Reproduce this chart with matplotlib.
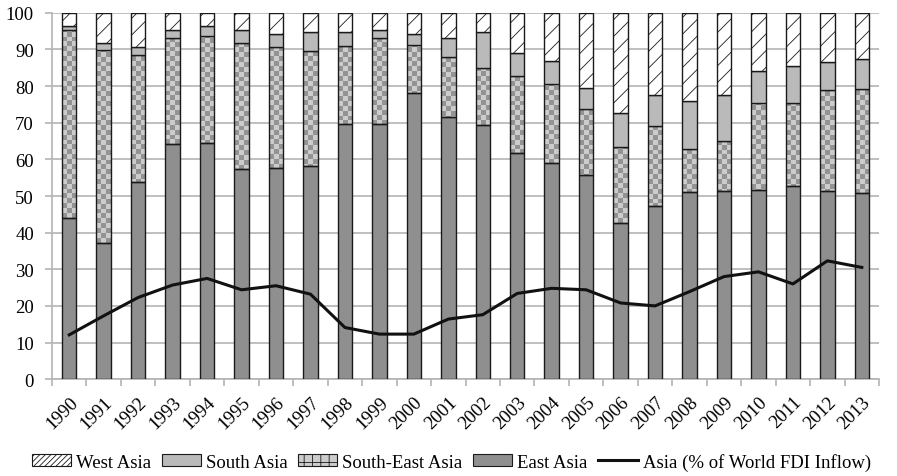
import numpy as np
import matplotlib
matplotlib.use('Agg')
from matplotlib import pyplot as plt
from matplotlib.patches import Patch
from matplotlib.lines import Line2D
from matplotlib.colors import ListedColormap

# shares of Asian FDI inflow by sub-region (%), and Asia's share of world FDI inflow
years = [str(y) for y in range(1990, 2014)]
east_asia = [44.0, 37.3, 53.8, 64.1, 64.6, 57.5, 57.6, 58.2, 69.7, 69.6, 78.2, 71.7,
             69.3, 61.7, 58.9, 55.7, 42.6, 47.3, 51.1, 51.4, 51.6, 52.8, 51.4, 50.9]
south_east_asia = [51.4, 52.5, 34.8, 28.9, 29.2, 34.3, 33.1, 31.5, 21.2, 23.4, 12.9, 16.3,
                   15.7, 21.0, 21.8, 18.0, 20.8, 21.8, 11.7, 13.6, 23.9, 22.6, 27.5, 28.4]
south_asia = [1.0, 2.0, 2.0, 2.4, 2.7, 3.4, 3.4, 5.0, 3.9, 2.4, 3.0, 5.2,
              9.7, 6.2, 6.1, 5.8, 9.3, 8.6, 13.0, 12.5, 8.6, 10.1, 7.6, 8.0]
west_asia = [3.6, 8.2, 9.4, 4.6, 3.5, 4.8, 5.9, 5.3, 5.2, 4.6, 5.9, 6.8,
             5.3, 11.1, 13.2, 20.5, 27.3, 22.3, 24.2, 22.5, 15.9, 14.5, 13.5, 12.7]
asia_world = [12.1, 17.3, 22.3, 25.7, 27.5, 24.4, 25.5, 23.2, 14.1, 12.3, 12.3, 16.4,
              17.6, 23.4, 24.8, 24.4, 20.8, 20.0, 23.9, 28.0, 29.3, 26.0, 32.3, 30.5]

plt.rcParams['font.family'] = ['Liberation Serif', 'DejaVu Serif']
plt.rcParams['hatch.linewidth'] = 0.6

c_east = '#8f8f8f'
c_south = '#bababa'
c_chk = ['#cccccc', '#939393']
grid_c = '#b4b4b4'

fig = plt.figure(figsize=(8.97, 4.77), dpi=100)
ax = fig.add_axes([0.058, 0.203, 0.922, 0.768])

x = np.arange(len(years))
w = 0.42
e = np.array(east_asia)
se = np.array(south_east_asia)
s = np.array(south_asia)
wa = np.array(west_asia)

ax.bar(x, e, w, color=c_east, edgecolor='#1a1a1a', linewidth=1.0, zorder=3)
se_bars = ax.bar(x, se, w, bottom=e, facecolor='none', edgecolor='#1a1a1a', linewidth=1.0, zorder=3)
ax.bar(x, s, w, bottom=e + se, color=c_south, edgecolor='#1a1a1a', linewidth=1.0, zorder=3)
ax.bar(x, wa, w, bottom=e + se + s, facecolor='white', edgecolor='#1a1a1a', hatch='//',
       linewidth=1.0, zorder=3)

# checkerboard fill for South-East Asia, clipped to each bar
ny, nx = 75, 168
checker = np.add.outer(np.arange(ny), np.arange(nx)) % 2
for b in se_bars:
    im = ax.imshow(checker, cmap=ListedColormap(c_chk), extent=(-0.5, 23.5, 0, 100),
                   aspect='auto', interpolation='nearest', zorder=2.5)
    im.set_clip_path(b)

ax.plot(x, asia_world, color='#111111', linewidth=2.2, zorder=4)

ax.set_xlim(-0.5, len(years) - 0.5)
ax.set_ylim(0, 100)
ax.set_yticks(range(0, 101, 10))
ax.yaxis.grid(True, color=grid_c, linewidth=1.2, zorder=0)
ax.set_xticks(x)
ax.set_xticklabels(years, rotation=45, ha='right', rotation_mode='anchor', fontsize=13.5)
ax.set_xticks(np.arange(-0.5, len(years), 1), minor=True)
ax.tick_params(axis='x', which='major', length=0, pad=10)
ax.tick_params(axis='x', which='minor', length=5, color=grid_c, width=1.2)
ax.tick_params(axis='y', length=5, color=grid_c, width=1.2, labelsize=13.5, pad=8)
for sp in ['top', 'right']:
    ax.spines[sp].set_visible(False)
for sp in ['left', 'bottom']:
    ax.spines[sp].set_color(grid_c)
    ax.spines[sp].set_linewidth(1.2)

handles = [
    Patch(facecolor='white', edgecolor='#1a1a1a', hatch='//////', linewidth=0.8, label='West Asia'),
    Patch(facecolor=c_south, edgecolor='#1a1a1a', linewidth=0.8, label='South Asia'),
    Patch(facecolor=c_chk[0], edgecolor='#1a1a1a', hatch='++', linewidth=0.8, label='South-East Asia'),
    Patch(facecolor=c_east, edgecolor='#1a1a1a', linewidth=0.8, label='East Asia'),
    Line2D([], [], color='#111111', linewidth=2.2, label='Asia (% of World FDI Inflow)'),
]
fig.legend(handles=handles, loc='center', bbox_to_anchor=(0.503, 0.03), ncol=5,
           frameon=False, fontsize=13.5, handlelength=2.1, handletextpad=0.27,
           columnspacing=0.55, handleheight=0.6, borderpad=0, borderaxespad=0)

fig.savefig('out.png', dpi=100)
